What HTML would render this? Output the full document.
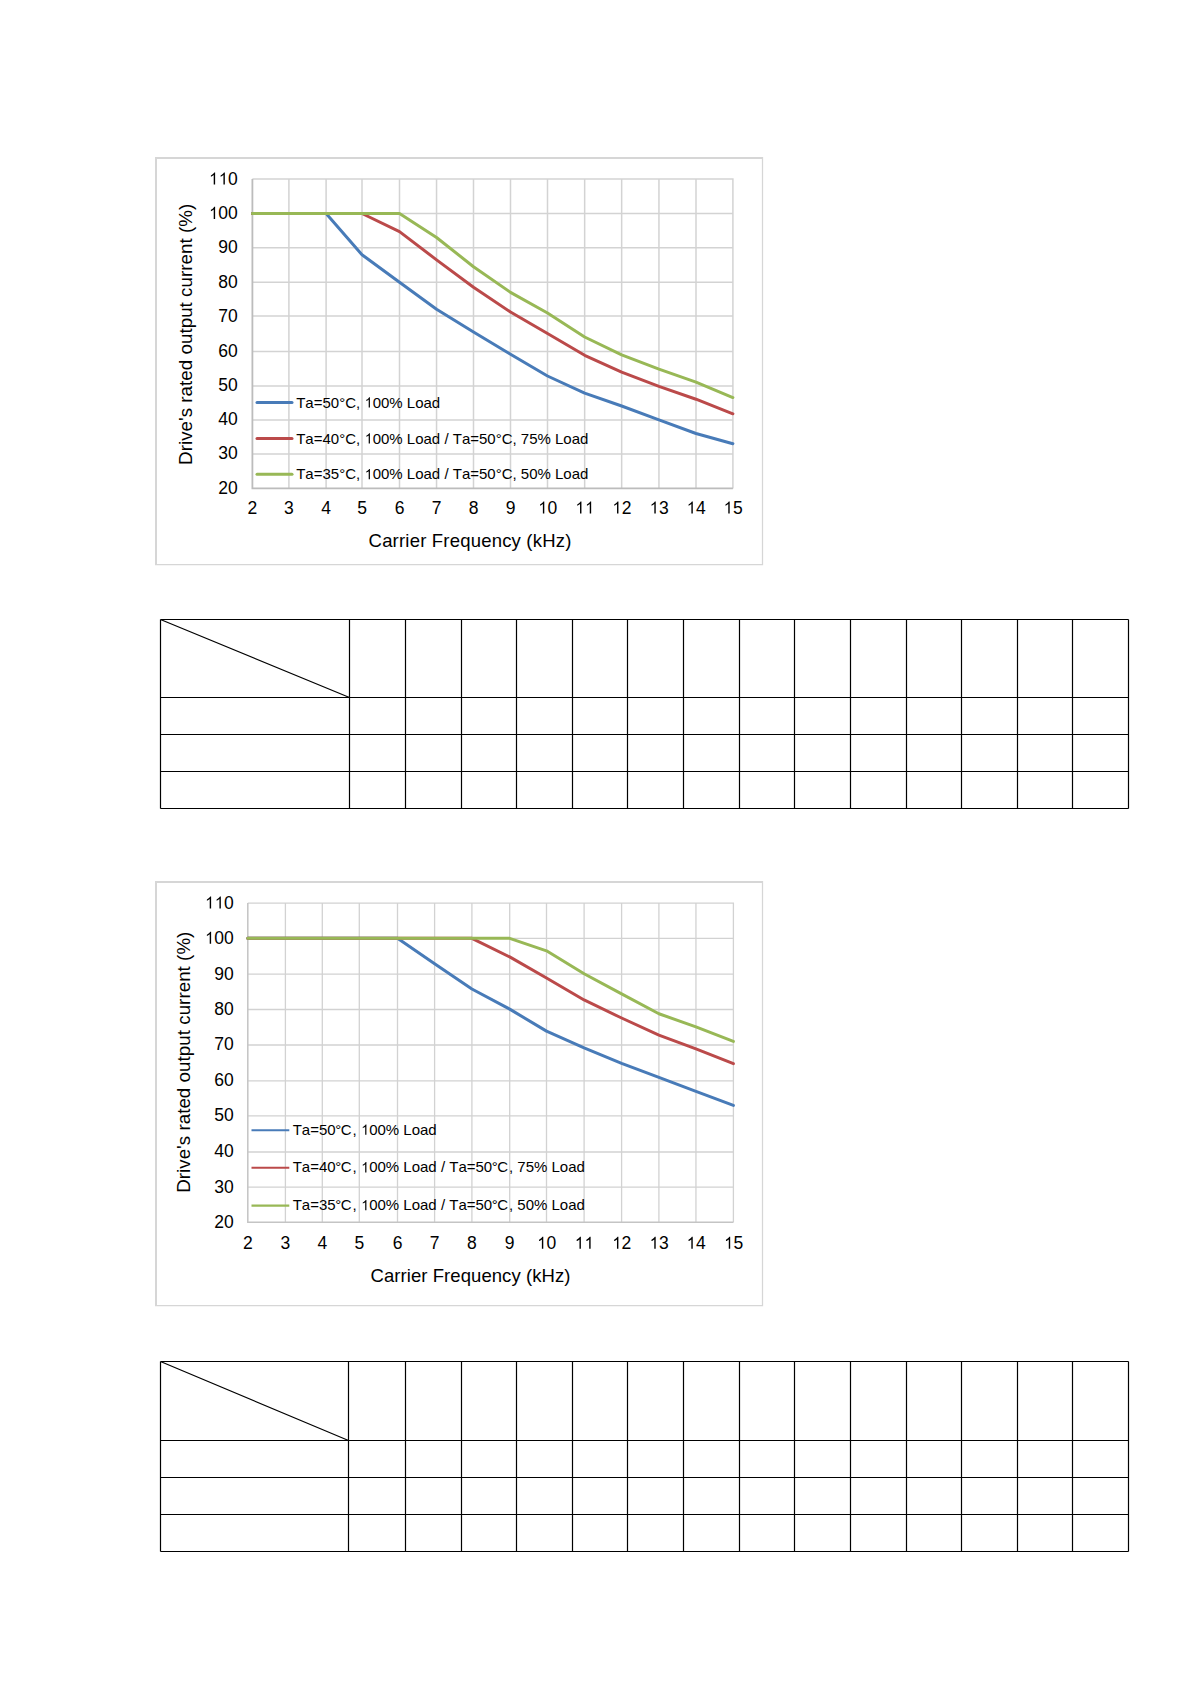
<!DOCTYPE html>
<html><head><meta charset="utf-8"><style>
html,body{margin:0;padding:0;background:#fff;width:1191px;height:1684px;overflow:hidden}
svg{display:block}
text{font-family:"Liberation Sans", sans-serif;fill:#000;font-kerning:none}
</style></head><body>
<svg width="1191" height="1684" viewBox="0 0 1191 1684">
<path d="M156 564.5V158H762.5" fill="none" stroke="#d6d6d6" stroke-width="2"/>
<path d="M155 564.5H762.5V157" fill="none" stroke="#d6d6d6" stroke-width="1.25"/>
<path d="M288.90 179.1V488.4M326.10 179.1V488.4M362.00 179.1V488.4M399.50 179.1V488.4M436.55 179.1V488.4M473.50 179.1V488.4M510.50 179.1V488.4M547.50 179.1V488.4M584.65 179.1V488.4M621.65 179.1V488.4M658.95 179.1V488.4M696.00 179.1V488.4M252.4 213.50H732.9M252.4 247.80H732.9M252.4 282.20H732.9M252.4 316.10H732.9M252.4 351.50H732.9M252.4 386.00H732.9M252.4 419.90H732.9M252.4 453.90H732.9M252.4 179.1H732.9V488.4" stroke="#d3d3d3" stroke-width="1.5" fill="none"/>
<path d="M252.4 179.1V488.4H732.9" stroke="#bcbcbc" stroke-width="1.8" fill="none"/>
<line x1="257.0" y1="402.6" x2="292.0" y2="402.6" stroke="#487bb8" stroke-width="3" stroke-linecap="round"/>
<text x="296.20 305.36 313.70 322.46 330.81 339.15 345.15 355.98 360.15 364.32 372.66 381.00 389.34 402.68 406.85 415.19 423.53 431.87" y="407.60" font-size="15">Ta=50°C,  00% Load</text><path transform="translate(364.32,407.60) scale(0.007324,-0.007324)" d="M763 0L598 0L598 1102C555 1063 498 1022 428 983C359 944 311 924 268 906L268 1062C357 1107 434 1161 509 1224C584 1288 627 1350 658 1409L763 1409Z"/>
<line x1="257.0" y1="438.5" x2="292.0" y2="438.5" stroke="#bb4a4a" stroke-width="3" stroke-linecap="round"/>
<text x="296.20 305.36 313.70 322.46 330.81 339.15 345.15 355.98 360.15 364.32 372.66 381.00 389.34 402.68 406.85 415.19 423.53 431.87 440.22 444.38 448.55 452.72 461.88 470.22 478.98 487.33 495.67 501.67 512.50 516.67 520.83 529.18 537.52 550.86 555.02 563.37 571.71 580.05" y="443.50" font-size="15">Ta=40°C,  00% Load / Ta=50°C, 75% Load</text><path transform="translate(364.32,443.50) scale(0.007324,-0.007324)" d="M763 0L598 0L598 1102C555 1063 498 1022 428 983C359 944 311 924 268 906L268 1062C357 1107 434 1161 509 1224C584 1288 627 1350 658 1409L763 1409Z"/>
<line x1="257.0" y1="474.3" x2="292.0" y2="474.3" stroke="#98b856" stroke-width="3" stroke-linecap="round"/>
<text x="296.20 305.36 313.70 322.46 330.81 339.15 345.15 355.98 360.15 364.32 372.66 381.00 389.34 402.68 406.85 415.19 423.53 431.87 440.22 444.38 448.55 452.72 461.88 470.22 478.98 487.33 495.67 501.67 512.50 516.67 520.83 529.18 537.52 550.86 555.02 563.37 571.71 580.05" y="479.30" font-size="15">Ta=35°C,  00% Load / Ta=50°C, 50% Load</text><path transform="translate(364.32,479.30) scale(0.007324,-0.007324)" d="M763 0L598 0L598 1102C555 1063 498 1022 428 983C359 944 311 924 268 906L268 1062C357 1107 434 1161 509 1224C584 1288 627 1350 658 1409L763 1409Z"/>
<polyline points="252.40,213.50 288.90,213.50 326.10,213.50 362.00,254.68 399.50,282.20 436.55,309.32 473.50,332.03 510.50,354.26 547.50,376.00 584.65,393.12 621.65,406.00 658.95,419.90 696.00,433.50 732.90,443.70" fill="none" stroke="#487bb8" stroke-width="3" stroke-linejoin="round" stroke-linecap="round"/>
<polyline points="252.40,213.50 288.90,213.50 326.10,213.50 362.00,213.50 399.50,231.68 436.55,259.84 473.50,287.28 510.50,312.03 547.50,333.45 584.65,355.30 621.65,372.20 658.95,386.34 696.00,399.22 732.90,413.80" fill="none" stroke="#bb4a4a" stroke-width="3" stroke-linejoin="round" stroke-linecap="round"/>
<polyline points="252.40,213.50 288.90,213.50 326.10,213.50 362.00,213.50 399.50,213.50 436.55,237.51 473.50,266.72 510.50,292.37 547.50,313.05 584.65,336.99 621.65,354.95 658.95,369.10 696.00,382.20 732.90,397.53" fill="none" stroke="#98b856" stroke-width="3" stroke-linejoin="round" stroke-linecap="round"/>
<text x="208.60" y="184.50" font-size="17.5">  0</text><path transform="translate(208.60,184.50) scale(0.008545,-0.008545)" d="M763 0L598 0L598 1102C555 1063 498 1022 428 983C359 944 311 924 268 906L268 1062C357 1107 434 1161 509 1224C584 1288 627 1350 658 1409L763 1409Z"/><path transform="translate(218.33,184.50) scale(0.008545,-0.008545)" d="M763 0L598 0L598 1102C555 1063 498 1022 428 983C359 944 311 924 268 906L268 1062C357 1107 434 1161 509 1224C584 1288 627 1350 658 1409L763 1409Z"/>
<text x="208.60" y="218.90" font-size="17.5"> 00</text><path transform="translate(208.60,218.90) scale(0.008545,-0.008545)" d="M763 0L598 0L598 1102C555 1063 498 1022 428 983C359 944 311 924 268 906L268 1062C357 1107 434 1161 509 1224C584 1288 627 1350 658 1409L763 1409Z"/>
<text x="218.33" y="253.20" font-size="17.5">90</text>
<text x="218.33" y="287.60" font-size="17.5">80</text>
<text x="218.33" y="321.50" font-size="17.5">70</text>
<text x="218.33" y="356.90" font-size="17.5">60</text>
<text x="218.33" y="391.40" font-size="17.5">50</text>
<text x="218.33" y="425.30" font-size="17.5">40</text>
<text x="218.33" y="459.30" font-size="17.5">30</text>
<text x="218.33" y="493.80" font-size="17.5">20</text>
<text x="247.53" y="513.50" font-size="17.5">2</text>
<text x="284.03" y="513.50" font-size="17.5">3</text>
<text x="321.23" y="513.50" font-size="17.5">4</text>
<text x="357.13" y="513.50" font-size="17.5">5</text>
<text x="394.63" y="513.50" font-size="17.5">6</text>
<text x="431.68" y="513.50" font-size="17.5">7</text>
<text x="468.63" y="513.50" font-size="17.5">8</text>
<text x="505.63" y="513.50" font-size="17.5">9</text>
<text x="537.77" y="513.50" font-size="17.5"> 0</text><path transform="translate(537.77,513.50) scale(0.008545,-0.008545)" d="M763 0L598 0L598 1102C555 1063 498 1022 428 983C359 944 311 924 268 906L268 1062C357 1107 434 1161 509 1224C584 1288 627 1350 658 1409L763 1409Z"/>
<text x="574.92" y="513.50" font-size="17.5">  </text><path transform="translate(574.92,513.50) scale(0.008545,-0.008545)" d="M763 0L598 0L598 1102C555 1063 498 1022 428 983C359 944 311 924 268 906L268 1062C357 1107 434 1161 509 1224C584 1288 627 1350 658 1409L763 1409Z"/><path transform="translate(584.65,513.50) scale(0.008545,-0.008545)" d="M763 0L598 0L598 1102C555 1063 498 1022 428 983C359 944 311 924 268 906L268 1062C357 1107 434 1161 509 1224C584 1288 627 1350 658 1409L763 1409Z"/>
<text x="611.92" y="513.50" font-size="17.5"> 2</text><path transform="translate(611.92,513.50) scale(0.008545,-0.008545)" d="M763 0L598 0L598 1102C555 1063 498 1022 428 983C359 944 311 924 268 906L268 1062C357 1107 434 1161 509 1224C584 1288 627 1350 658 1409L763 1409Z"/>
<text x="649.22" y="513.50" font-size="17.5"> 3</text><path transform="translate(649.22,513.50) scale(0.008545,-0.008545)" d="M763 0L598 0L598 1102C555 1063 498 1022 428 983C359 944 311 924 268 906L268 1062C357 1107 434 1161 509 1224C584 1288 627 1350 658 1409L763 1409Z"/>
<text x="686.27" y="513.50" font-size="17.5"> 4</text><path transform="translate(686.27,513.50) scale(0.008545,-0.008545)" d="M763 0L598 0L598 1102C555 1063 498 1022 428 983C359 944 311 924 268 906L268 1062C357 1107 434 1161 509 1224C584 1288 627 1350 658 1409L763 1409Z"/>
<text x="723.17" y="513.50" font-size="17.5"> 5</text><path transform="translate(723.17,513.50) scale(0.008545,-0.008545)" d="M763 0L598 0L598 1102C555 1063 498 1022 428 983C359 944 311 924 268 906L268 1062C357 1107 434 1161 509 1224C584 1288 627 1350 658 1409L763 1409Z"/>
<text x="368.56" y="547.2" font-size="18.5" textLength="202.8" lengthAdjust="spacing">Carrier Frequency (kHz)</text>
<text transform="translate(192.2,464.9) rotate(-90)" x="0" y="0" font-size="18.75" textLength="261.1" lengthAdjust="spacing">Drive's rated output current (%)</text>
<path d="M160.5 619.5H1128.5M160.5 697.5H1128.5M160.5 734.5H1128.5M160.5 771.5H1128.5M160.5 808.5H1128.5M160.5 619.5V808.5M349.5 619.5V808.5M405.5 619.5V808.5M461.5 619.5V808.5M516.5 619.5V808.5M572.5 619.5V808.5M627.5 619.5V808.5M683.5 619.5V808.5M739.5 619.5V808.5M794.5 619.5V808.5M850.5 619.5V808.5M906.5 619.5V808.5M961.5 619.5V808.5M1017.5 619.5V808.5M1072.5 619.5V808.5M1128.5 619.5V808.5M160.5 619.5L349.5 697.5" stroke="#000" stroke-width="1.2" fill="none"/>
<path d="M156 1305.5V882H762.5" fill="none" stroke="#d6d6d6" stroke-width="2"/>
<path d="M155 1305.5H762.5V881" fill="none" stroke="#d6d6d6" stroke-width="1.25"/>
<path d="M285.40 903.1V1222.3M322.30 903.1V1222.3M359.30 903.1V1222.3M397.50 903.1V1222.3M434.60 903.1V1222.3M471.90 903.1V1222.3M509.70 903.1V1222.3M546.50 903.1V1222.3M584.10 903.1V1222.3M621.60 903.1V1222.3M658.90 903.1V1222.3M695.95 903.1V1222.3M247.8 938.30H733.4M247.8 974.10H733.4M247.8 1009.50H733.4M247.8 1045.00H733.4M247.8 1080.90H733.4M247.8 1115.90H733.4M247.8 1152.00H733.4M247.8 1187.10H733.4M247.8 903.1H733.4V1222.3" stroke="#d2d2d2" stroke-width="1.3" fill="none"/>
<path d="M247.8 903.1V1222.3H733.4" stroke="#c4c4c4" stroke-width="1.5" fill="none"/>
<line x1="251.5" y1="1130.2" x2="289.3" y2="1130.2" stroke="#487bb8" stroke-width="2" stroke-linecap="butt"/>
<text x="292.70 301.86 310.20 318.96 327.31 335.15 340.65 352.48 356.65 360.82 369.16 377.50 385.84 399.18 403.35 411.69 420.03 428.37" y="1134.80" font-size="15">Ta=50°C,  00% Load</text><path transform="translate(360.82,1134.80) scale(0.007324,-0.007324)" d="M763 0L598 0L598 1102C555 1063 498 1022 428 983C359 944 311 924 268 906L268 1062C357 1107 434 1161 509 1224C584 1288 627 1350 658 1409L763 1409Z"/>
<line x1="251.5" y1="1167.8" x2="289.3" y2="1167.8" stroke="#bb4a4a" stroke-width="2" stroke-linecap="butt"/>
<text x="292.70 301.86 310.20 318.96 327.31 335.15 340.65 352.48 356.65 360.82 369.16 377.50 385.84 399.18 403.35 411.69 420.03 428.37 436.72 440.88 445.05 449.22 458.38 466.72 475.48 483.83 491.67 497.17 509.00 513.17 517.33 525.68 534.02 547.36 551.52 559.87 568.21 576.55" y="1172.40" font-size="15">Ta=40°C,  00% Load / Ta=50°C, 75% Load</text><path transform="translate(360.82,1172.40) scale(0.007324,-0.007324)" d="M763 0L598 0L598 1102C555 1063 498 1022 428 983C359 944 311 924 268 906L268 1062C357 1107 434 1161 509 1224C584 1288 627 1350 658 1409L763 1409Z"/>
<line x1="251.5" y1="1205.6" x2="289.3" y2="1205.6" stroke="#98b856" stroke-width="2.4" stroke-linecap="butt"/>
<text x="292.70 301.86 310.20 318.96 327.31 335.15 340.65 352.48 356.65 360.82 369.16 377.50 385.84 399.18 403.35 411.69 420.03 428.37 436.72 440.88 445.05 449.22 458.38 466.72 475.48 483.83 491.67 497.17 509.00 513.17 517.33 525.68 534.02 547.36 551.52 559.87 568.21 576.55" y="1210.20" font-size="15">Ta=35°C,  00% Load / Ta=50°C, 50% Load</text><path transform="translate(360.82,1210.20) scale(0.007324,-0.007324)" d="M763 0L598 0L598 1102C555 1063 498 1022 428 983C359 944 311 924 268 906L268 1062C357 1107 434 1161 509 1224C584 1288 627 1350 658 1409L763 1409Z"/>
<polyline points="247.80,938.30 397.50,938.30 434.60,963.72 471.90,988.97 509.70,1009.15 546.50,1031.15 584.10,1047.87 621.60,1063.31 658.90,1077.31 695.95,1091.40 733.40,1105.40" fill="none" stroke="#487bb8" stroke-width="3" stroke-linejoin="round" stroke-linecap="round"/>
<polyline points="247.80,938.30 471.90,938.30 509.70,956.92 546.50,977.99 584.10,999.94 621.60,1018.02 658.90,1035.06 695.95,1048.95 733.40,1063.67" fill="none" stroke="#bb4a4a" stroke-width="3" stroke-linejoin="round" stroke-linecap="round"/>
<polyline points="247.80,938.30 509.70,938.30 546.50,950.83 584.10,973.74 621.60,993.92 658.90,1013.76 695.95,1026.89 733.40,1041.45" fill="none" stroke="#98b856" stroke-width="3" stroke-linejoin="round" stroke-linecap="round"/>
<text x="204.60" y="908.50" font-size="17.5">  0</text><path transform="translate(204.60,908.50) scale(0.008545,-0.008545)" d="M763 0L598 0L598 1102C555 1063 498 1022 428 983C359 944 311 924 268 906L268 1062C357 1107 434 1161 509 1224C584 1288 627 1350 658 1409L763 1409Z"/><path transform="translate(214.33,908.50) scale(0.008545,-0.008545)" d="M763 0L598 0L598 1102C555 1063 498 1022 428 983C359 944 311 924 268 906L268 1062C357 1107 434 1161 509 1224C584 1288 627 1350 658 1409L763 1409Z"/>
<text x="204.60" y="943.70" font-size="17.5"> 00</text><path transform="translate(204.60,943.70) scale(0.008545,-0.008545)" d="M763 0L598 0L598 1102C555 1063 498 1022 428 983C359 944 311 924 268 906L268 1062C357 1107 434 1161 509 1224C584 1288 627 1350 658 1409L763 1409Z"/>
<text x="214.33" y="979.50" font-size="17.5">90</text>
<text x="214.33" y="1014.90" font-size="17.5">80</text>
<text x="214.33" y="1050.40" font-size="17.5">70</text>
<text x="214.33" y="1086.30" font-size="17.5">60</text>
<text x="214.33" y="1121.30" font-size="17.5">50</text>
<text x="214.33" y="1157.40" font-size="17.5">40</text>
<text x="214.33" y="1192.50" font-size="17.5">30</text>
<text x="214.33" y="1227.70" font-size="17.5">20</text>
<text x="242.93" y="1248.80" font-size="17.5">2</text>
<text x="280.53" y="1248.80" font-size="17.5">3</text>
<text x="317.43" y="1248.80" font-size="17.5">4</text>
<text x="354.43" y="1248.80" font-size="17.5">5</text>
<text x="392.63" y="1248.80" font-size="17.5">6</text>
<text x="429.73" y="1248.80" font-size="17.5">7</text>
<text x="467.03" y="1248.80" font-size="17.5">8</text>
<text x="504.83" y="1248.80" font-size="17.5">9</text>
<text x="536.77" y="1248.80" font-size="17.5"> 0</text><path transform="translate(536.77,1248.80) scale(0.008545,-0.008545)" d="M763 0L598 0L598 1102C555 1063 498 1022 428 983C359 944 311 924 268 906L268 1062C357 1107 434 1161 509 1224C584 1288 627 1350 658 1409L763 1409Z"/>
<text x="574.37" y="1248.80" font-size="17.5">  </text><path transform="translate(574.37,1248.80) scale(0.008545,-0.008545)" d="M763 0L598 0L598 1102C555 1063 498 1022 428 983C359 944 311 924 268 906L268 1062C357 1107 434 1161 509 1224C584 1288 627 1350 658 1409L763 1409Z"/><path transform="translate(584.10,1248.80) scale(0.008545,-0.008545)" d="M763 0L598 0L598 1102C555 1063 498 1022 428 983C359 944 311 924 268 906L268 1062C357 1107 434 1161 509 1224C584 1288 627 1350 658 1409L763 1409Z"/>
<text x="611.87" y="1248.80" font-size="17.5"> 2</text><path transform="translate(611.87,1248.80) scale(0.008545,-0.008545)" d="M763 0L598 0L598 1102C555 1063 498 1022 428 983C359 944 311 924 268 906L268 1062C357 1107 434 1161 509 1224C584 1288 627 1350 658 1409L763 1409Z"/>
<text x="649.17" y="1248.80" font-size="17.5"> 3</text><path transform="translate(649.17,1248.80) scale(0.008545,-0.008545)" d="M763 0L598 0L598 1102C555 1063 498 1022 428 983C359 944 311 924 268 906L268 1062C357 1107 434 1161 509 1224C584 1288 627 1350 658 1409L763 1409Z"/>
<text x="686.22" y="1248.80" font-size="17.5"> 4</text><path transform="translate(686.22,1248.80) scale(0.008545,-0.008545)" d="M763 0L598 0L598 1102C555 1063 498 1022 428 983C359 944 311 924 268 906L268 1062C357 1107 434 1161 509 1224C584 1288 627 1350 658 1409L763 1409Z"/>
<text x="723.67" y="1248.80" font-size="17.5"> 5</text><path transform="translate(723.67,1248.80) scale(0.008545,-0.008545)" d="M763 0L598 0L598 1102C555 1063 498 1022 428 983C359 944 311 924 268 906L268 1062C357 1107 434 1161 509 1224C584 1288 627 1350 658 1409L763 1409Z"/>
<text x="370.56" y="1281.8" font-size="18.5" textLength="199.8" lengthAdjust="spacing">Carrier Frequency (kHz)</text>
<text transform="translate(189.9,1192.84) rotate(-90)" x="0" y="0" font-size="18.75" textLength="261.2" lengthAdjust="spacing">Drive's rated output current (%)</text>
<path d="M160.5 1361.5H1128.5M160.5 1440.5H1128.5M160.5 1477.5H1128.5M160.5 1514.5H1128.5M160.5 1551.5H1128.5M160.5 1361.5V1551.5M348.5 1361.5V1551.5M405.5 1361.5V1551.5M461.5 1361.5V1551.5M516.5 1361.5V1551.5M572.5 1361.5V1551.5M627.5 1361.5V1551.5M683.5 1361.5V1551.5M739.5 1361.5V1551.5M794.5 1361.5V1551.5M850.5 1361.5V1551.5M906.5 1361.5V1551.5M961.5 1361.5V1551.5M1017.5 1361.5V1551.5M1072.5 1361.5V1551.5M1128.5 1361.5V1551.5M160.5 1361.5L348.5 1440.5" stroke="#000" stroke-width="1.2" fill="none"/>
</svg>
</body></html>
